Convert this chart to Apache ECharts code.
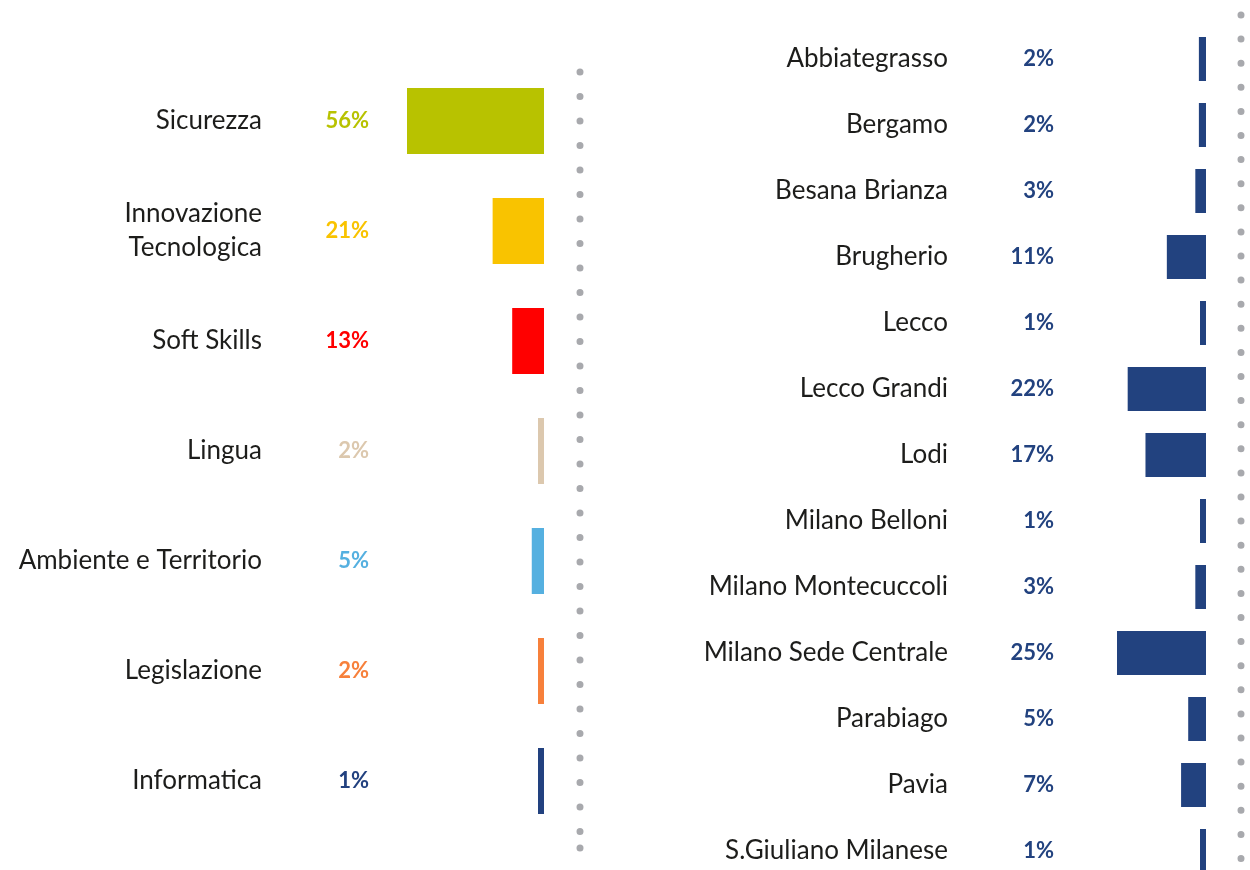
<!DOCTYPE html>
<html>
<head>
<meta charset="utf-8">
<title>Corsi per area e sede</title>
<script src="https://cdn.jsdelivr.net/npm/echarts@6/dist/echarts.min.js"></script>
<style>
    html, body { margin: 0; padding: 0; background: #fff; }
    #charts { width: 1250px; height: 870px; }
</style>
</head>
<body>
<div id="charts"></div>
<script>
    // aree tematiche
    var areaNames = ['Sicurezza', 'Innovazione\nTecnologica', 'Soft Skills', 'Lingua',
        'Ambiente e Territorio', 'Legislazione', 'Informatica'];
    var areaValues = [56, 21, 13, 2, 5, 2, 1];
    var areaColors = ['#b8c200', '#f9c300', '#ff0000', '#dcc8ae', '#55b0e0', '#f7803b', '#22417f'];

    // sedi
    var sedeNames = ['Abbiategrasso', 'Bergamo', 'Besana Brianza', 'Brugherio', 'Lecco',
        'Lecco Grandi', 'Lodi', 'Milano Belloni', 'Milano Montecuccoli',
        'Milano Sede Centrale', 'Parabiago', 'Pavia', 'S.Giuliano Milanese'];
    var sedeValues = [2, 2, 3, 11, 1, 22, 17, 1, 3, 25, 5, 7, 1];
    var sedeColor = '#22427f';

    var textColor = '#1d1d1b';
    var dotColor = '#a8a9ad';

    var chart = echarts.init(document.getElementById('charts'));

    function nameAxis(grid, data, margin) {
        return {
            type: 'category', gridIndex: grid, data: data, inverse: true, position: 'left',
            axisLine: { show: false }, axisTick: { show: false },
            axisLabel: {
                margin: margin, fontFamily: 'Lato', fontSize: 26, lineHeight: 34, color: textColor
            }
        };
    }

    function pctAxis(grid, data, values, colors, margin) {
        return {
            type: 'category', gridIndex: grid, data: data, inverse: true, position: 'left',
            axisLine: { show: false }, axisTick: { show: false },
            axisLabel: {
                margin: margin, fontFamily: 'Lato', fontSize: 22, fontWeight: 'bold',
                formatter: function(v, i) { return values[i] + '%'; },
                color: function(v, i) { return typeof colors === 'string' ? colors : colors[i]; }
            }
        };
    }

    chart.setOption({
        animation: false,
        backgroundColor: '#fff',
        grid: [
            { left: 407, width: 137, top: 66, height: 770, outerBoundsMode: 'none' },
            { left: 1117, width: 89, top: 26, height: 858, outerBoundsMode: 'none' }
        ],
        xAxis: [
            { type: 'value', gridIndex: 0, min: 0, max: 56, inverse: true, show: false },
            { type: 'value', gridIndex: 1, min: 0, max: 25, inverse: true, show: false }
        ],
        yAxis: [
            nameAxis(0, areaNames, 145),
            pctAxis(0, areaNames, areaValues, areaColors, 38),
            nameAxis(1, sedeNames, 169),
            pctAxis(1, sedeNames, sedeValues, sedeColor, 63)
        ],
        series: [
            {
                type: 'bar', xAxisIndex: 0, yAxisIndex: 0, barWidth: 66, barMinHeight: 6,
                data: areaValues.map(function(v, i) {
                    return { value: v, itemStyle: { color: areaColors[i] } };
                })
            },
            {
                type: 'bar', xAxisIndex: 1, yAxisIndex: 2, barWidth: 44, barMinHeight: 6,
                itemStyle: { color: sedeColor },
                data: sedeValues
            }
        ],
        graphic: [
            {
                type: 'line', silent: true,
                shape: { x1: 580, y1: 72, x2: 580, y2: 850 },
                style: { stroke: dotColor, lineWidth: 7, lineCap: 'round', lineDash: [0, 24.5] }
            },
            {
                type: 'circle', silent: true,
                shape: { cx: 580, cy: 848, r: 3.5 },
                style: { fill: dotColor }
            },
            {
                type: 'line', silent: true,
                shape: { x1: 1241, y1: 15, x2: 1241, y2: 862 },
                style: { stroke: dotColor, lineWidth: 7, lineCap: 'round', lineDash: [0, 24.1] }
            }
        ]
    });
</script>
</body>
</html>
